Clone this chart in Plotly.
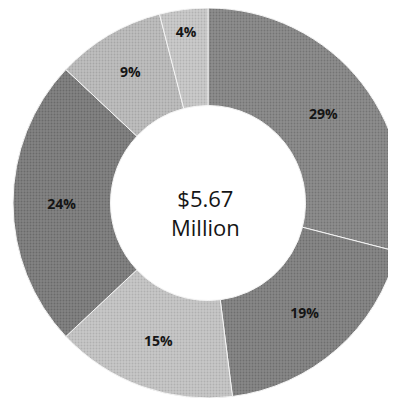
import plotly.graph_objects as go

labels = ["A", "B", "C", "D", "E", "F"]
shares = [29, 19, 15, 24, 9, 4]
slice_colors = ["#8e8e8e", "#888888", "#c8c8c8", "#838383", "#bfbfbf", "#cbcbcb"]
dot_colors = ["#747474", "#6e6e6e", "#b0b0b0", "#6a6a6a", "#a6a6a6", "#b2b2b2"]
center_lines = ["$5.67", "Million"]

W, H = 420, 400
cx, cy, R = 200, 195, 195  # figure-pixel centre and radius of the donut

fig = go.Figure(go.Pie(
    labels=labels,
    values=shares,
    sort=False,
    direction="clockwise",
    rotation=0,
    hole=0.5,
    marker=dict(colors=slice_colors, line=dict(color="#f4f4f4", width=1),
                pattern=dict(shape=".", bgcolor=slice_colors, fgcolor=dot_colors,
                             size=3, solidity=0.3)),
    texttemplate="%{percent:.0%}",
    textposition="inside",
    insidetextorientation="horizontal",
    textfont=dict(family="Open Sans", size=14, color="#151515", weight="bold"),
    showlegend=False,
    domain=dict(x=[(cx - R) / W, (cx + R) / W], y=[(H - cy - R) / H, (H - cy + R) / H]),
))

fig.add_annotation(
    x=197.5 / W, y=(H - 204) / H, xref="paper", yref="paper",
    text="<br>".join(center_lines), showarrow=False,
    font=dict(family="Open Sans", size=22, color="#151515", weight=500),
)

fig.update_layout(
    width=W, height=H,
    margin=dict(l=0, r=0, t=0, b=0),
    paper_bgcolor="white", plot_bgcolor="white",
)

fig.write_html("out.html")
